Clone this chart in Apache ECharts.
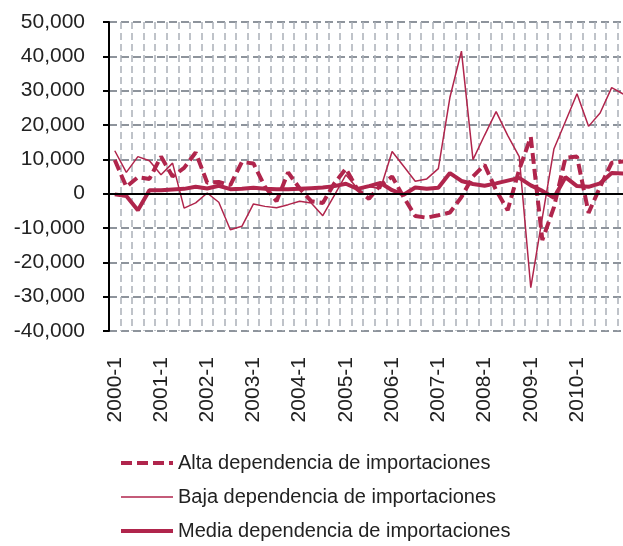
<!DOCTYPE html>
<html>
<head>
    <meta charset="utf-8">
    <title>ECharts</title>
    <script src="https://cdn.jsdelivr.net/npm/echarts@6/dist/echarts.min.js"></script>
</head>
<body>
<div id="main"></div>
<style type="text/css">
    html, body { height: 100%; margin: 0; padding: 0; background: #fff; }
    #main { width: 623px; height: 546px; }
</style>
<script type="text/javascript">
    // trimestres 2000-1 .. 2011-1
    var quarters = [];
    for (var y = 2000; y <= 2011; y++) {
        for (var q = 1; q <= 4; q++) {
            if (y === 2011 && q > 1) break;
            quarters.push(y + '-' + q);
        }
    }

    var seriesNames = [
        'Alta dependencia de importaciones',
        'Baja dependencia de importaciones',
        'Media dependencia de importaciones'
    ];

    var alta = [9800, 2000, 4800, 4300, 10800, 5000, 7500, 12000, 3200, 3400,
        2500, 9200, 8800, 2000, -2200, 6200, 1500, -2200, -2700, 3000,
        7300, 1200, -1500, 2500, 5000, -1000, -6500, -7000, -6300, -5500,
        -1000, 5000, 8400, 1000, -4800, 7000, 16500, -13500, -4000, 10400,
        10800, -5600, 2000, 9000, 9400];

    var baja = [12500, 6200, 10800, 9600, 5500, 8900, -4200, -2700, 200, -2500,
        -10500, -9500, -3000, -3700, -4100, -3200, -2200, -2700, -6400, -500,
        5500, 1500, 2000, 1500, 12300, 8000, 3600, 4300, 7300, 28000,
        41500, 9900, 17000, 23900, 17000, 10800, -27400, -7000, 13000, 21000,
        29100, 19600, 23500, 30900, 29000];

    var media = [-200, -700, -4800, 1000, 1000, 1200, 1400, 2000, 1500, 2300,
        1300, 1400, 1700, 1400, 1300, 1300, 1400, 1600, 1800, 2200,
        2900, 1400, 2200, 3100, 1000, -300, 1800, 1400, 1700, 6000,
        3700, 2800, 2300, 3000, 3800, 4600, 2400, 800, -1200, 4800,
        2200, 2000, 3000, 6000, 5900];

    var red = '#B0254C';
    var fontName = 'Liberation Sans';
    var styles = [
        { color: red, width: 4, type: [11, 5] },
        { color: red, width: 1.5, type: 'solid' },
        { color: red, width: 4, type: 'solid' }
    ];

    var myChart = echarts.init(document.getElementById('main'));

    var option = {
        backgroundColor: '#fff',
        animation: false,
        grid: {
            left: 109,
            width: 520,
            top: 22,
            bottom: 215,
            containLabel: false,
            outerBoundsMode: 'none'
        },
        legend: {
            orient: 'vertical',
            left: 119,
            top: 453,
            padding: 0,
            itemWidth: 52,
            itemHeight: 14,
            itemGap: 14,
            data: seriesNames.map(function (n, i) {
                return { name: n, lineStyle: styles[i] };
            }),
            itemStyle: { opacity: 0 },
            textStyle: {
                fontFamily: fontName,
                fontSize: 20,
                lineHeight: 20,
                color: '#222'
            }
        },
        xAxis: {
            type: 'category',
            data: quarters,
            boundaryGap: true,
            axisLine: { show: false },
            axisTick: { show: false },
            axisLabel: {
                interval: function (i) { return i % 4 === 0 && i < 44; },
                rotate: 90,
                margin: 26,
                fontFamily: fontName,
                fontSize: 21,
                color: '#222'
            },
            splitLine: {
                show: true,
                interval: 0,
                lineStyle: { color: '#AAB0B8', width: 1.5, type: [7, 4] }
            }
        },
        yAxis: {
            type: 'value',
            min: -40000,
            max: 50000,
            interval: 10000,
            axisLine: { show: true, lineStyle: { color: '#000', width: 2 } },
            axisTick: { show: true, length: 6, lineStyle: { color: '#000', width: 2 } },
            axisLabel: {
                margin: 24,
                fontFamily: fontName,
                fontSize: 21,
                color: '#222',
                formatter: function (v) {
                    return v.toLocaleString('en-US');
                }
            },
            splitLine: {
                show: true,
                lineStyle: { color: '#8E949C', width: 2, type: [8, 4] }
            }
        },
        series: [
            {
                name: seriesNames[0],
                type: 'line',
                data: alta,
                symbol: 'none',
                color: red,
                lineStyle: styles[0],
                markLine: {
                    silent: true,
                    symbol: 'none',
                    label: { show: false },
                    lineStyle: { color: '#000', width: 2, type: 'solid' },
                    data: [{ yAxis: 0 }]
                }
            },
            {
                name: seriesNames[1],
                type: 'line',
                data: baja,
                symbol: 'none',
                color: red,
                lineStyle: styles[1]
            },
            {
                name: seriesNames[2],
                type: 'line',
                data: media,
                symbol: 'none',
                color: red,
                lineStyle: styles[2]
            }
        ]
    };

    myChart.setOption(option);
</script>
</body>
</html>
